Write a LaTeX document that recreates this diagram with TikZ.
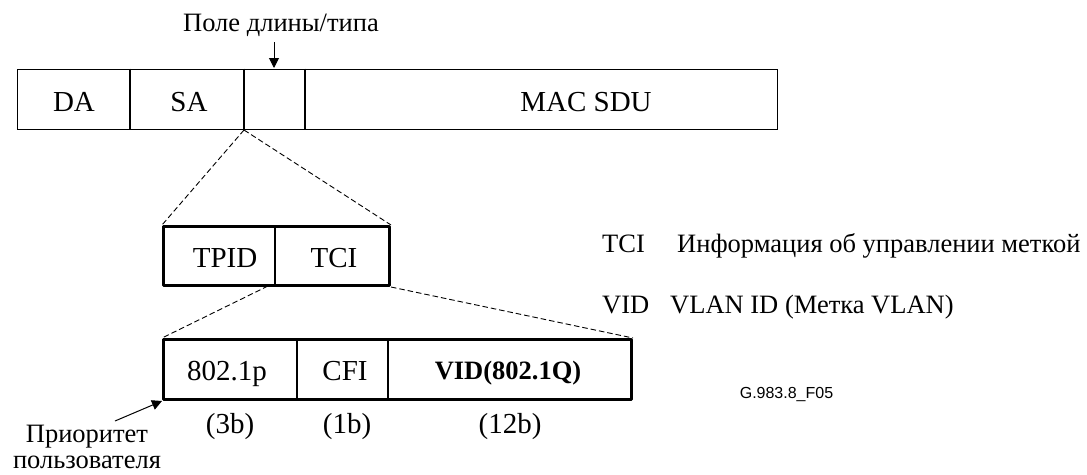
\documentclass[tikz,border=0pt]{standalone}
\usepackage{fontspec}
\setmainfont{Liberation Serif}
\newfontfamily\arialf{Liberation Sans}
\usetikzlibrary{arrows.meta}
\tikzset{
  x=1pt,y=-1pt,
  lbl/.style={inner sep=0pt,font=\fontsize{26.5}{30}\selectfont,anchor=base},
  cell/.style={inner sep=0pt,font=\fontsize{29}{32}\selectfont,anchor=base},
  small/.style={inner sep=0pt,font=\arialf\fontsize{16}{18}\selectfont,anchor=base},
  thinbox/.style={draw,line width=1.3pt,inner sep=0pt,anchor=north west},
  thickbox/.style={draw,line width=3pt,line join=round,inner sep=0pt,anchor=north west},
  thickdiv/.style={line width=1.4pt},
  zoomline/.style={line width=0.9pt,dash pattern=on 5.5pt off 3pt},
  pointer/.style={line width=1pt,-{Triangle[length=10pt,width=10pt]}},
}
\begin{document}
\begin{tikzpicture}
\useasboundingbox (0,0) rectangle (1087,474);
% Top frame
\node[thinbox,minimum width=760pt,minimum height=60.5pt] (frame) at (17,68.5) {};
\coordinate (d1t) at (130,68.5); \coordinate (d1b) at (130,129);
\coordinate (d2t) at (244,68.5); \coordinate (d2b) at (244,129);
\coordinate (d3t) at (305,68.5); \coordinate (d3b) at (305,129);
\draw[thickdiv] (d1t) -- (d1b);
\draw[thickdiv] (d2t) -- (d2b);
\draw[thickdiv] (d3t) -- (d3b);
\node[cell] (da) at (74,111) {DA};
\node[cell] (sa) at (189,111) {SA};
\node[cell] (sdu) at (586,111.5) {MAC SDU};
\node[lbl] (lentype) at (281,31) {Поле длины/типа};
\coordinate (lenfrom) at (274,42);
\coordinate (lento) at (274,68);
\draw[pointer] (lenfrom) -- (lento);
% Tag box
\node[thickbox,minimum width=226pt,minimum height=59pt] (tag) at (162,225) {};
\coordinate (t1t) at (275,225); \coordinate (t1b) at (275,284);
\draw[thickdiv] (t1t) -- (t1b);
\node[cell] (tpid) at (225,267) {TPID};
\node[cell] (tci) at (334,267) {TCI};
% Lower box
\node[thickbox,minimum width=468pt,minimum height=60pt] (vlan) at (162,338) {};
\coordinate (v1t) at (297,338); \coordinate (v1b) at (297,398);
\coordinate (v2t) at (388,338); \coordinate (v2b) at (388,398);
\draw[thickdiv] (v1t) -- (v1b);
\draw[thickdiv] (v2t) -- (v2b);
\node[cell] (p) at (227,380) {802.1p};
\node[cell] (cfi) at (345,380) {CFI};
\node[lbl,font=\bfseries\fontsize{26.5}{30}\selectfont] (vid) at (508,379) {VID(802.1Q)};
\node[cell] (b3) at (230,433) {(3b)};
\node[cell] (b1) at (347,433) {(1b)};
\node[cell] (b12) at (510,433) {(12b)};
% Zoom lines
\coordinate (zs) at (244,130);
\coordinate (zt) at (268,286);
\draw[zoomline] (zs) -- (tag.north west);
\draw[zoomline] (zs) -- (tag.north east);
\draw[zoomline] (zt) -- (vlan.north west);
\draw[zoomline] (tag.south east) -- (vlan.north east);
% User priority
\node[lbl] (prio1) at (87,442) {Приоритет};
\node[lbl] (prio2) at (87,468) {пользователя};
\coordinate (priofrom) at (115,421);
\draw[pointer] (priofrom) -- (vlan.south west);
% Legend
\node[lbl,anchor=base west] (k1) at (602,252) {TCI};
\node[lbl,anchor=base west] (v1) at (677,252) {Информация об управлении меткой};
\node[lbl,anchor=base west] (k2) at (602,313) {VID};
\node[lbl,anchor=base west] (v2) at (670,313) {VLAN ID (Метка VLAN)};
\node[small] (code) at (786.5,398) {G.983.8\_F05};
\end{tikzpicture}
\end{document}
